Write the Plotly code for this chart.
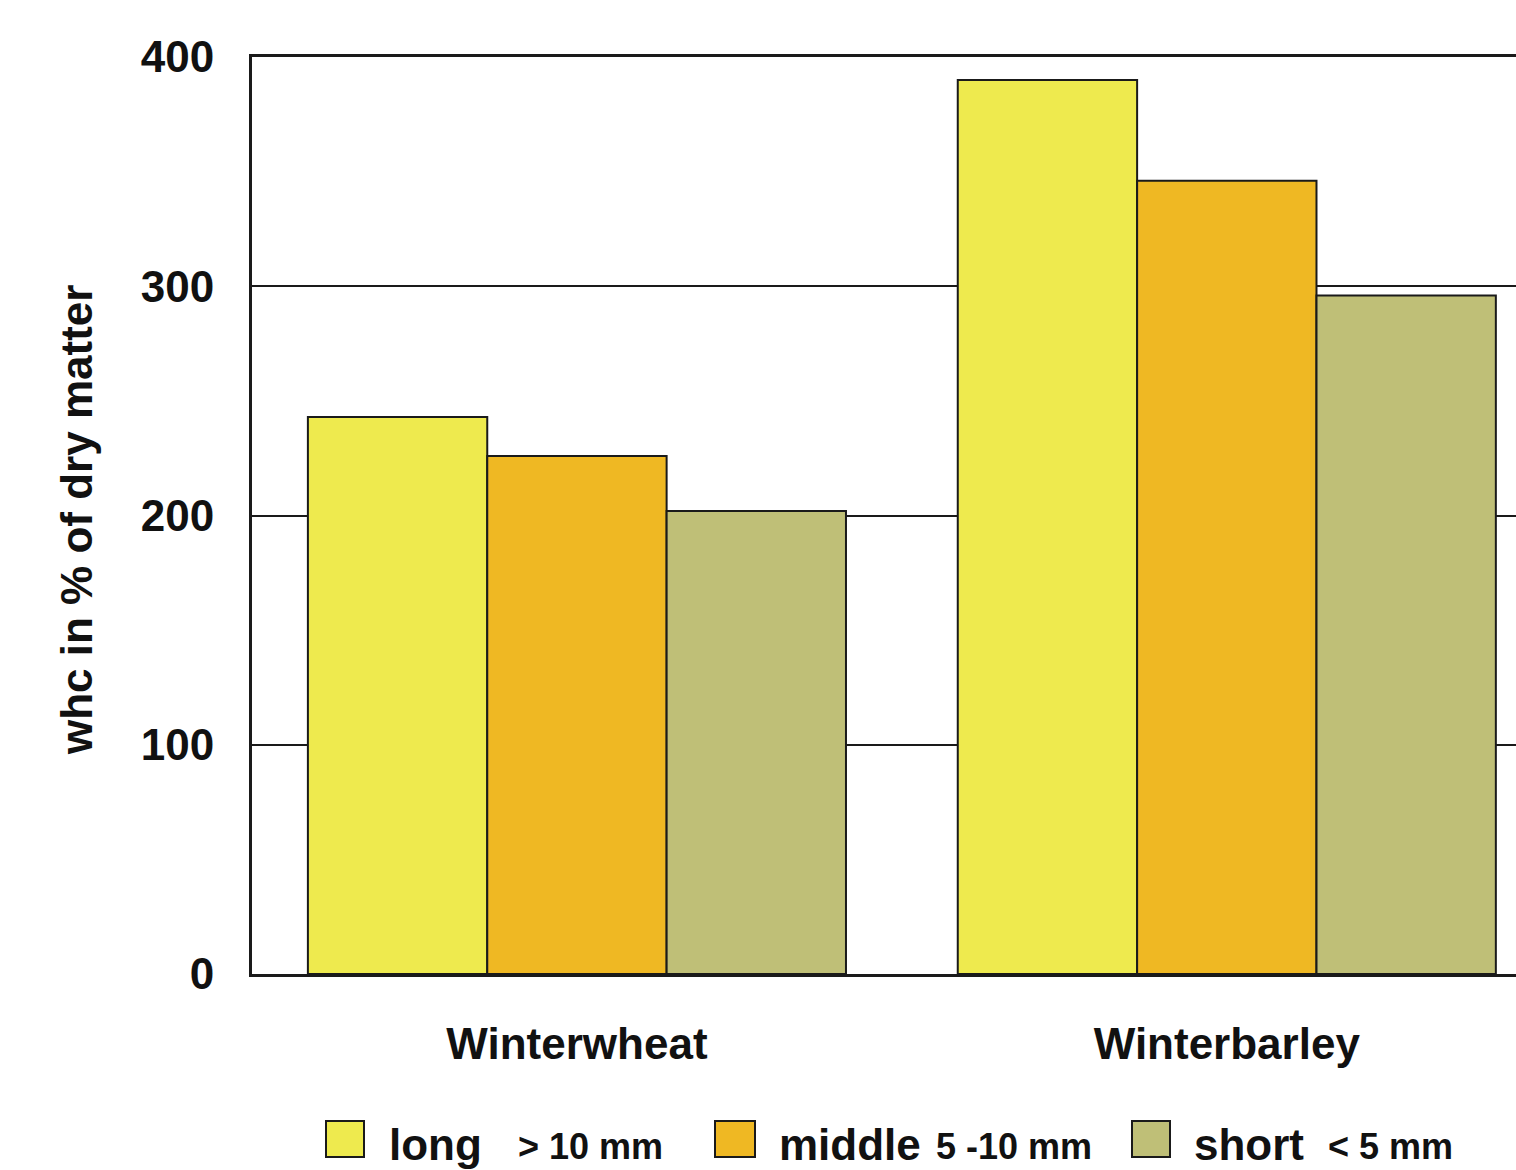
import plotly.graph_objects as go

categories = ["Winterwheat", "Winterbarley"]
series_names = ["long", "middle", "short"]
series_ranges = ["&gt; 10 mm", "5 -10 mm", "&lt; 5 mm"]
long_vals = [243, 390]
middle_vals = [226, 346]
short_vals = [202, 296]
y_ticks = [0, 100, 200, 300, 400]

colors = ["#EEEA4E", "#EFB823", "#BFBF77"]
values = [long_vals, middle_vals, short_vals]
FONT = "Liberation Sans, Arial, sans-serif"

fig = go.Figure()
for name, vals, col in zip(series_names, values, colors):
    fig.add_trace(go.Bar(
        x=categories, y=vals, name=name,
        marker=dict(color=col, line=dict(color="#1a1a1a", width=2)),
        showlegend=False,
    ))

# plot area in px: x 252..1516, y 57..974
W, H = 1516, 1170
L, R, T, B = 252, 0, 57, 196
pw = W - L - R
ph = H - T - B

def px(xp):
    return (xp - L) / pw

def py(yp):
    return (H - B - yp) / ph

shapes = []
annotations = []
legend_sq = [(326, 364), (715, 755), (1132, 1170)]
legend_name_x = [388, 778, 1193]
legend_range_x = [517, 935, 1327]
for i in range(3):
    x0, x1 = legend_sq[i]
    shapes.append(dict(type="rect", xref="paper", yref="paper",
                       x0=px(x0), x1=px(x1), y0=py(1157), y1=py(1121),
                       fillcolor=colors[i], line=dict(color="#1a1a1a", width=2)))
    annotations.append(dict(xref="paper", yref="paper", x=px(legend_name_x[i]), y=py(1160),
                            xanchor="left", yanchor="bottom", showarrow=False,
                            text=series_names[i], borderpad=0,
                            font=dict(family=FONT, size=44, color="#111", weight="bold"),
                            yshift=-10))
    annotations.append(dict(xref="paper", yref="paper", x=px(legend_range_x[i]), y=py(1160),
                            xanchor="left", yanchor="bottom", showarrow=False,
                            text=series_ranges[i], borderpad=0,
                            font=dict(family=FONT, size=36, color="#111", weight="bold"),
                            yshift=-8))

annotations.append(dict(xref="paper", yref="paper", x=px(76), y=py(520),
                        xanchor="center", yanchor="middle", showarrow=False,
                        text="whc in % of dry matter", textangle=-90,
                        font=dict(family=FONT, size=44, color="#111", weight="bold")))

fig.update_layout(
    width=W, height=H,
    margin=dict(l=L, r=R, t=T, b=B, pad=0),
    paper_bgcolor="white", plot_bgcolor="white",
    barmode="group", bargap=0.172, bargroupgap=0,
    shapes=shapes, annotations=annotations,
    font=dict(family=FONT, color="#111"),
)
fig.update_xaxes(
    range=[-0.5, 1.445], showgrid=False, showline=True, linecolor="#1a1a1a", linewidth=3,
    mirror=True, ticks="", ticklabelstandoff=29,
    tickfont=dict(family=FONT, size=44, color="#111", weight="bold"),
)
fig.update_yaxes(
    range=[0, 400], tickvals=y_ticks, showgrid=True, gridcolor="#1a1a1a", gridwidth=1.5,
    zeroline=False, showline=True, linecolor="#1a1a1a", linewidth=3,
    ticks="", ticklabelstandoff=26,
    tickfont=dict(family=FONT, size=44, color="#111", weight="bold"),
)

fig.write_html("out.html", config={"displayModeBar": False},
               post_script="document.body.style.margin='0';document.body.style.overflow='hidden';")
